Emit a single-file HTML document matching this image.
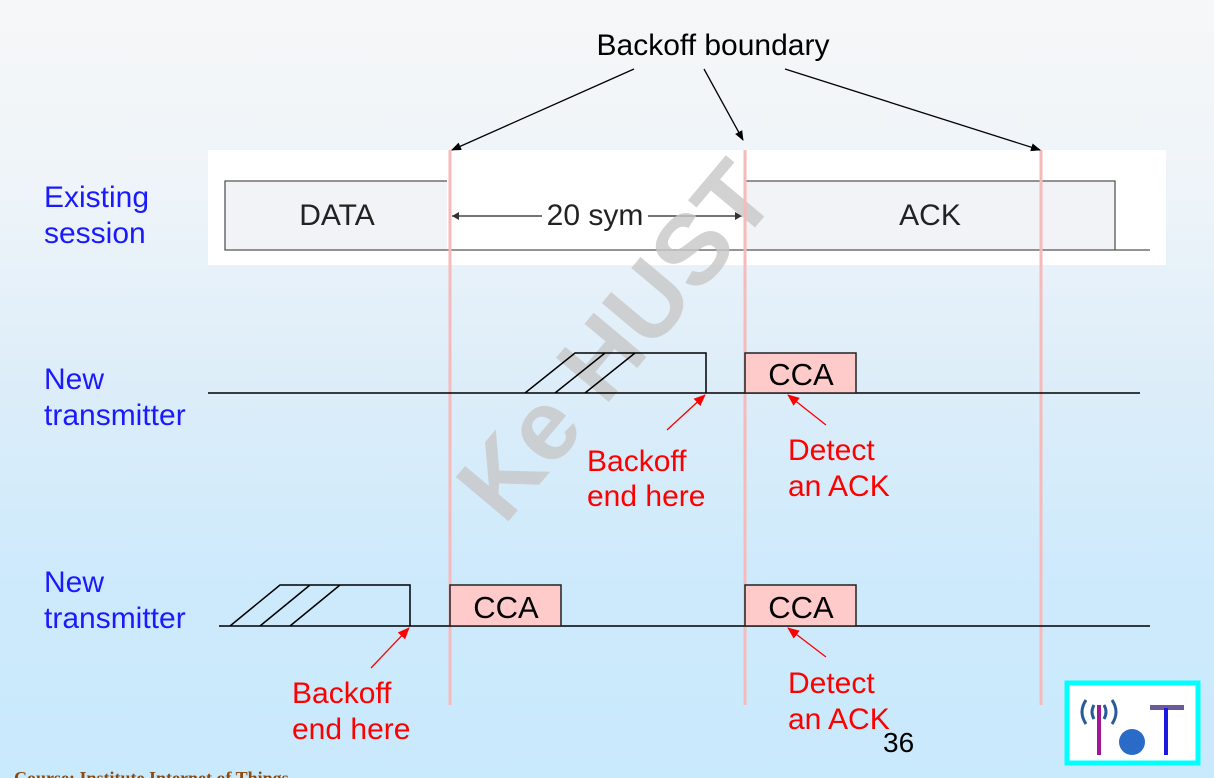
<!DOCTYPE html>
<html><head><meta charset="utf-8"><style>
html,body{margin:0;padding:0}
body{width:1214px;height:778px;overflow:hidden;background:linear-gradient(#f6f7f8 0%,#eef4f9 25%,#dcedf9 50%,#cdeafc 75%,#c9e9fd 100%);font-family:"Liberation Sans",sans-serif}
svg{position:absolute;left:0;top:0}
</style></head><body>
<svg width="1214" height="778" viewBox="0 0 1214 778" font-family="Liberation Sans, sans-serif">
<defs>
<marker id="ab" markerWidth="10" markerHeight="10" refX="9" refY="5" orient="auto" markerUnits="userSpaceOnUse"><path d="M0,1 L10,5 L0,9z" fill="#000"/></marker>
<marker id="ar" markerWidth="12" markerHeight="12" refX="11" refY="6" orient="auto" markerUnits="userSpaceOnUse"><path d="M0,1 L12,6 L0,11z" fill="#f00"/></marker>
</defs>
<rect x="208" y="150" width="958" height="115" fill="#fff"/>
<rect x="225" y="181" width="222" height="69" fill="#f1f3f6"/>
<rect x="745" y="181" width="370" height="69" fill="#f1f3f6"/>
<path d="M447,181 H225 V250 H1150 M745,181 H1115 V250" fill="none" stroke="#555" stroke-width="1.3"/>
<text x="337" y="225" font-size="30" text-anchor="middle" fill="#222">DATA</text>
<text x="930" y="225" font-size="30" text-anchor="middle" fill="#222">ACK</text>
<line x1="452" y1="216" x2="542" y2="216" stroke="#222" stroke-width="1.3"/>
<line x1="648" y1="216" x2="742" y2="216" stroke="#222" stroke-width="1.3"/>
<path d="M452,216 l7,-4 v8z M742,216 l-7,-4 v8z" fill="#333"/>
<text x="595" y="225" font-size="30" text-anchor="middle" fill="#222">20 sym</text>
<text x="615" y="375" font-size="100" font-weight="bold" fill="#c8c8c8" opacity="0.8" text-anchor="middle" transform="rotate(-50 615 340)">Ke HUST</text>
<g stroke="#f7baba" stroke-width="3">
<line x1="450" y1="150" x2="450" y2="705"/><line x1="745" y1="150" x2="745" y2="705"/><line x1="1041" y1="150" x2="1041" y2="705"/>
</g>
<text x="713" y="55" font-size="30" text-anchor="middle">Backoff boundary</text>
<g stroke="#000" stroke-width="1.3">
<line x1="634" y1="69" x2="452" y2="150" marker-end="url(#ab)"/>
<line x1="704" y1="69" x2="743" y2="140" marker-end="url(#ab)"/>
<line x1="785" y1="69" x2="1040" y2="150" marker-end="url(#ab)"/>
</g>
<g font-size="30" fill="#1a1aff">
<text x="44" y="207">Existing</text><text x="44" y="243">session</text>
<text x="44" y="389">New</text><text x="44" y="425">transmitter</text>
<text x="44" y="592">New</text><text x="44" y="628">transmitter</text>
</g>
<g stroke="#000" stroke-width="1.5" fill="none">
<line x1="208" y1="393" x2="1140" y2="393"/>
<path d="M525,393 L575,353 H706 V393 M555,393 L605,353 M585,393 L635,353"/>
<line x1="219" y1="626" x2="1150" y2="626"/>
<path d="M230,626 L280,585 H410 V626 M260,626 L310,585 M290,626 L340,585"/>
</g>
<g fill="#ffcaca" stroke="#222" stroke-width="1.5">
<rect x="745" y="353" width="111" height="40"/>
<rect x="450" y="585" width="111" height="41"/>
<rect x="745" y="585" width="111" height="41"/>
</g>
<g font-size="31" text-anchor="middle">
<text x="801" y="385">CCA</text><text x="506" y="618">CCA</text><text x="801" y="618">CCA</text>
</g>
<g stroke="#f00" stroke-width="1.3">
<line x1="667" y1="430" x2="705" y2="395" marker-end="url(#ar)"/>
<line x1="826" y1="425" x2="788" y2="395" marker-end="url(#ar)"/>
<line x1="371" y1="668" x2="409" y2="628" marker-end="url(#ar)"/>
<line x1="826" y1="657" x2="788" y2="628" marker-end="url(#ar)"/>
</g>
<g font-size="30" fill="#f00">
<text x="587" y="471">Backoff</text><text x="587" y="506">end here</text>
<text x="788" y="460">Detect</text><text x="788" y="496">an ACK</text>
<text x="292" y="703">Backoff</text><text x="292" y="739">end here</text>
<text x="788" y="693">Detect</text><text x="788" y="729">an ACK</text>
</g>
<text x="883" y="752" font-size="28" fill="#000">36</text>
<rect x="1067" y="683" width="131" height="80" fill="#fff" stroke="#00ffff" stroke-width="5"/>
<g fill="none" stroke="#2a5a9a" stroke-width="3">
<path d="M1086,700 q-8,12 0,24"/><path d="M1094,705 q-4,7 0,14"/>
<path d="M1112,700 q8,12 0,24"/><path d="M1104,705 q4,7 0,14"/>
</g>
<line x1="1099" y1="705" x2="1099" y2="755" stroke="#a0189a" stroke-width="4"/>
<circle cx="1132" cy="742" r="13" fill="#2a6bc8"/>
<rect x="1150" y="705" width="34" height="5" fill="#6a5a9a"/>
<line x1="1166" y1="708" x2="1166" y2="755" stroke="#1a1ae0" stroke-width="4"/>
<text x="14" y="784" font-size="18" fill="#8a4a10" font-family="Liberation Serif, serif" font-weight="bold">Course: Institute Internet of Things</text>
</svg>
</body></html>
